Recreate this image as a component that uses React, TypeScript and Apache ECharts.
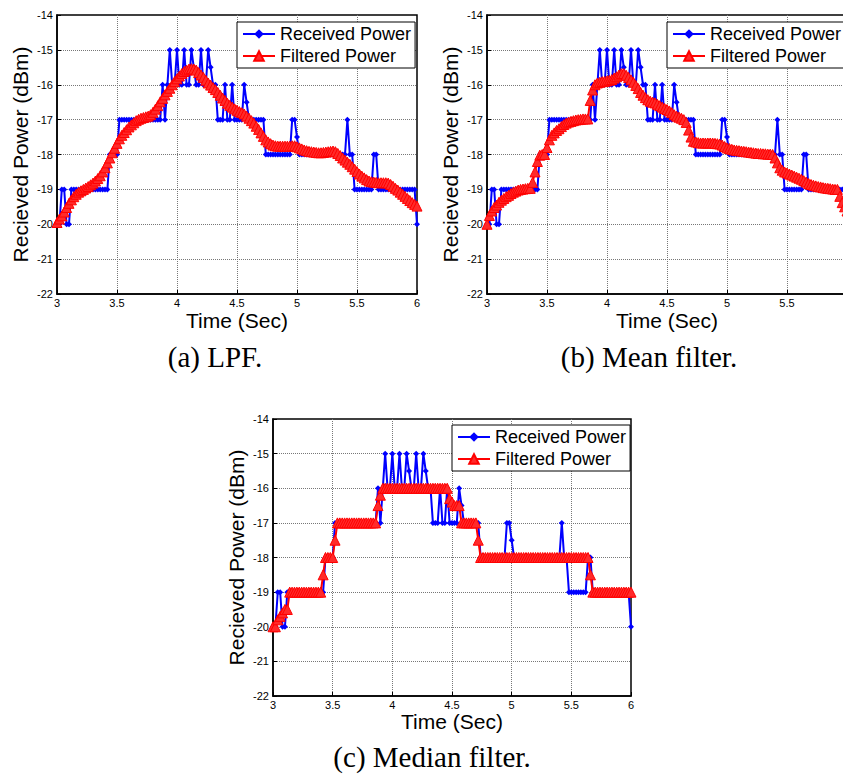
import React, { useEffect, useRef } from "react";
import * as echarts from "echarts";

const timeSec = [
  3.0, 3.02, 3.04, 3.06, 3.08, 3.1, 3.12, 3.14, 3.16, 3.18,
  3.2, 3.22, 3.24, 3.26, 3.28, 3.3, 3.32, 3.34, 3.36, 3.38,
  3.4, 3.42, 3.44, 3.46, 3.48, 3.5, 3.52, 3.54, 3.56, 3.58,
  3.6, 3.62, 3.64, 3.66, 3.68, 3.7, 3.72, 3.74, 3.76, 3.78,
  3.8, 3.82, 3.84, 3.86, 3.88, 3.9, 3.92, 3.94, 3.96, 3.98,
  4.0, 4.02, 4.04, 4.06, 4.08, 4.1, 4.12, 4.14, 4.16, 4.18,
  4.2, 4.22, 4.24, 4.26, 4.28, 4.3, 4.32, 4.34, 4.36, 4.38,
  4.4, 4.42, 4.44, 4.46, 4.48, 4.5, 4.52, 4.54, 4.56, 4.58,
  4.6, 4.62, 4.64, 4.66, 4.68, 4.7, 4.72, 4.74, 4.76, 4.78,
  4.8, 4.82, 4.84, 4.86, 4.88, 4.9, 4.92, 4.94, 4.96, 4.98,
  5.0, 5.02, 5.04, 5.06, 5.08, 5.1, 5.12, 5.14, 5.16, 5.18,
  5.2, 5.22, 5.24, 5.26, 5.28, 5.3, 5.32, 5.34, 5.36, 5.38,
  5.4, 5.42, 5.44, 5.46, 5.48, 5.5, 5.52, 5.54, 5.56, 5.58,
  5.6, 5.62, 5.64, 5.66, 5.68, 5.7, 5.72, 5.74, 5.76, 5.78,
  5.8, 5.82, 5.84, 5.86, 5.88, 5.9, 5.92, 5.94, 5.96, 5.98,
  6.0,
];

const receivedPower = [
  -20, -20, -19, -19, -20, -20, -19, -19, -19, -19,
  -19, -19, -19, -19, -19, -19, -19, -19, -19, -19,
  -19, -19, -18, -18, -18, -18, -17, -17, -17, -17,
  -17, -17, -17, -17, -17, -17, -17, -17, -17, -17,
  -17, -17, -17, -17, -16, -17, -16, -15, -16, -16,
  -15, -16, -16, -15, -16, -16, -15, -15.5, -16, -16,
  -15, -16, -16, -15, -15.5, -16, -16, -17, -17, -17,
  -16, -17, -17, -16, -17, -17, -17, -17, -16, -16.5,
  -17, -17, -17, -17, -17, -17, -17, -18, -18, -18,
  -18, -18, -18, -18, -18, -18, -18, -18, -17, -17,
  -17.5, -18, -18, -18, -18, -18, -18, -18, -18, -18,
  -18, -18, -18, -18, -18, -18, -18, -18, -18, -18,
  -18, -17, -18, -18, -19, -19, -19, -19, -19, -19,
  -19, -19, -18, -18, -19, -19, -19, -19, -19, -19,
  -19, -19, -19, -19, -19, -19, -19, -19, -19, -19,
  -20,
];

const lpfPower = [
  -19.95, -19.85, -19.76, -19.65, -19.52, -19.4, -19.3, -19.21, -19.14, -19.08,
  -19.04, -19.0, -18.96, -18.92, -18.87, -18.82, -18.76, -18.69, -18.61, -18.5,
  -18.38, -18.24, -18.1, -17.95, -17.82, -17.68, -17.55, -17.45, -17.37, -17.29,
  -17.21, -17.15, -17.09, -17.03, -16.99, -16.96, -16.94, -16.92, -16.9, -16.86,
  -16.79, -16.7, -16.6, -16.49, -16.39, -16.29, -16.19, -16.1, -16.0, -15.91,
  -15.83, -15.75, -15.68, -15.62, -15.58, -15.55, -15.54, -15.55, -15.58, -15.65,
  -15.72, -15.79, -15.87, -15.95, -16.01, -16.08, -16.14, -16.22, -16.3, -16.38,
  -16.45, -16.53, -16.59, -16.64, -16.69, -16.73, -16.77, -16.8, -16.84, -16.9,
  -16.96, -17.03, -17.1, -17.19, -17.28, -17.38, -17.48, -17.58, -17.64, -17.69,
  -17.73, -17.75, -17.76, -17.76, -17.76, -17.76, -17.76, -17.76, -17.75, -17.75,
  -17.78, -17.81, -17.84, -17.87, -17.89, -17.91, -17.92, -17.93, -17.94, -17.95,
  -17.95, -17.94, -17.93, -17.92, -17.91, -17.9, -17.92, -17.97, -18.03, -18.1,
  -18.16, -18.22, -18.28, -18.35, -18.42, -18.49, -18.56, -18.62, -18.67, -18.72,
  -18.76, -18.78, -18.79, -18.8, -18.81, -18.81, -18.81, -18.81, -18.82, -18.86,
  -18.91, -18.97, -19.02, -19.08, -19.14, -19.2, -19.26, -19.32, -19.38, -19.43,
  -19.48,
];

const meanPower = [
  -20.0, -19.75, -19.62, -19.52, -19.45, -19.37, -19.31, -19.26, -19.21, -19.17,
  -19.12, -19.08, -19.05, -19.02, -19.0, -18.99, -18.98, -18.97, -18.97, -18.8,
  -18.5, -18.2, -18.02, -18.0, -18.0, -17.8, -17.58, -17.45, -17.38, -17.31,
  -17.26, -17.2, -17.14, -17.1, -17.07, -17.05, -17.03, -17.01, -17.0, -16.99,
  -16.98, -16.98, -16.98, -16.45, -16.15, -16.0, -15.95, -15.93, -15.91, -15.9,
  -15.89, -15.87, -15.85, -15.81, -15.77, -15.72, -15.68, -15.68, -15.73, -15.79,
  -15.86, -15.93, -16.02, -16.11, -16.22, -16.3, -16.37, -16.43, -16.47, -16.5,
  -16.52, -16.56, -16.6, -16.64, -16.68, -16.71, -16.75, -16.8, -16.86, -16.9,
  -16.93, -16.96, -17.0, -17.08, -17.3, -17.5, -17.62, -17.64, -17.66, -17.67,
  -17.67, -17.67, -17.67, -17.67, -17.67, -17.68, -17.69, -17.7, -17.73, -17.77,
  -17.81, -17.83, -17.85, -17.87, -17.88, -17.89, -17.9, -17.91, -17.92, -17.93,
  -17.94, -17.95, -17.96, -17.97, -17.97, -17.98, -17.98, -17.99, -17.99, -18.0,
  -18.1, -18.24, -18.38, -18.45, -18.5, -18.53, -18.56, -18.59, -18.62, -18.65,
  -18.68, -18.71, -18.75, -18.79, -18.83, -18.86, -18.88, -18.9, -18.92, -18.93,
  -18.95, -18.96, -18.97, -18.98, -18.99, -19.0, -19.0, -19.2, -19.38, -19.5,
  -19.62,
];

const medianPower = [
  -20, -20, -19.8, -19.7, -19.6, -19.5, -19.5, -19, -19, -19,
  -19, -19, -19, -19, -19, -19, -19, -19, -19, -19,
  -19, -18.5, -18, -18, -18, -18, -17.5, -17, -17, -17,
  -17, -17, -17, -17, -17, -17, -17, -17, -17, -17,
  -17, -17, -17, -17, -16.5, -16.2, -16, -16, -16, -16,
  -16, -16, -16, -16, -16, -16, -16, -16, -16, -16,
  -16, -16, -16, -16, -16, -16, -16, -16, -16, -16,
  -16, -16, -16, -16, -16.3, -16.4, -16.5, -16.5, -16.5, -17,
  -17, -17, -17, -17, -17, -17, -17.5, -18, -18, -18,
  -18, -18, -18, -18, -18, -18, -18, -18, -18, -18,
  -18, -18, -18, -18, -18, -18, -18, -18, -18, -18,
  -18, -18, -18, -18, -18, -18, -18, -18, -18, -18,
  -18, -18, -18, -18, -18, -18, -18, -18, -18, -18,
  -18, -18, -18, -18.5, -19, -19, -19, -19, -19, -19,
  -19, -19, -19, -19, -19, -19, -19, -19, -19, -19,
  -19,
];

const seriesNames = ["Received Power", "Filtered Power"];
const captions = ["(a) LPF.", "(b) Mean filter.", "(c) Median filter."];
const xAxisTitle = "Time (Sec)";
const yAxisTitle = "Recieved Power (dBm)";
const xRange = [3, 6];
const xStep = 0.5;
const yRange = [-22, -14];
const yStep = 1;

const SANS = "'Liberation Sans', Arial, Helvetica, sans-serif";
const SERIF = "'Liberation Serif', 'Times New Roman', serif";

const pairs = (vals: number[]) => timeSec.map((t, i) => [t, vals[i]]);

const panels = [
  { left: 57, top: 15, width: 360, height: 279, filtered: lpfPower, legLeft: 237, legTop: 22, capX: 215, capY: 357, xGap: 16, showMax: true },
  { left: 487, top: 15, width: 360, height: 279, filtered: meanPower, legLeft: 667, legTop: 22, capX: 649, capY: 357, xGap: 16, showMax: false },
  { left: 273, top: 419, width: 358, height: 277, filtered: medianPower, legLeft: 452, legTop: 425, capX: 432, capY: 757, xGap: 14, showMax: true },
];

export default function App() {
  const ref = useRef<HTMLDivElement>(null);
  useEffect(() => {
    if (!ref.current) return;
    const chart = echarts.init(ref.current, null, { renderer: "svg" });
    const grid: any[] = [];
    const xAxis: any[] = [];
    const yAxis: any[] = [];
    const series: any[] = [];
    const legend: any[] = [];
    const graphic: any[] = [];
    panels.forEach((p, k) => {
      grid.push({
        left: p.left, top: p.top, width: p.width, height: p.height,
        containLabel: false, outerBoundsMode: "none",
        show: true, borderColor: "#000", borderWidth: 1.5, backgroundColor: "#fff",
      });
      xAxis.push({
        gridIndex: k, type: "value", min: xRange[0], max: xRange[1], interval: xStep,
        name: xAxisTitle, nameLocation: "middle", nameGap: p.xGap,
        nameTextStyle: { fontSize: 21, fontFamily: SANS, color: "#000", verticalAlign: "top" },
        axisLine: { show: true, onZero: false, lineStyle: { color: "#000", width: 1.5 } },
        axisTick: { show: true, inside: true, length: 4, lineStyle: { color: "#000" } },
        axisLabel: { fontSize: 11, fontFamily: SANS, color: "#000", margin: 3, hideOverlap: false, showMaxLabel: p.showMax },
        splitLine: { show: true, showMinLine: false, showMaxLine: false, lineStyle: { type: "dotted", color: "#777", width: 1 } },
      });
      yAxis.push({
        gridIndex: k, type: "value", min: yRange[0], max: yRange[1], interval: yStep,
        name: yAxisTitle, nameLocation: "middle", nameGap: 26, nameRotate: 90,
        nameTextStyle: { fontSize: 21, fontFamily: SANS, color: "#000" },
        axisLine: { show: true, onZero: false, lineStyle: { color: "#000", width: 1.5 } },
        axisTick: { show: true, inside: true, length: 4, lineStyle: { color: "#000" } },
        axisLabel: { fontSize: 11, fontFamily: SANS, color: "#000", margin: 4 },
        splitLine: { show: true, showMinLine: false, showMaxLine: false, lineStyle: { type: "dotted", color: "#777", width: 1 } },
      });
      series.push({
        type: "line", name: seriesNames[0], xAxisIndex: k, yAxisIndex: k,
        data: pairs(receivedPower), symbol: "diamond", symbolSize: 6, showAllSymbol: true,
        lineStyle: { color: "#0000ff", width: 2 }, itemStyle: { color: "#0000ff" }, z: 2,
      });
      series.push({
        type: "line", name: seriesNames[1], xAxisIndex: k, yAxisIndex: k,
        data: pairs(p.filtered), symbol: "triangle", symbolSize: 10, showAllSymbol: true,
        lineStyle: { color: "#ff0000", width: 2 },
        itemStyle: { color: "#ff2a2a", borderColor: "#ff0000", borderWidth: 1 }, z: 3,
      });
      legend.push({
        left: p.legLeft, top: p.legTop, orient: "vertical", data: seriesNames,
        backgroundColor: "#fff", borderColor: "#000", borderWidth: 1, borderRadius: 0,
        padding: [3, 4, 3, 5], itemGap: 4, itemWidth: 32, itemHeight: 12,
        selectedMode: false,
        textStyle: { fontSize: 18, fontFamily: SANS, color: "#000", lineHeight: 18 },
      });
      graphic.push({
        type: "text", x: p.capX, y: p.capY,
        style: { text: captions[k], font: `29px ${SERIF}`, fill: "#000", textAlign: "center", textVerticalAlign: "middle" },
      });
    });
    chart.setOption({
      animation: false,
      backgroundColor: "#fff",
      grid, xAxis, yAxis, series, legend, graphic,
    });
    return () => chart.dispose();
  }, []);
  return (
    <div
      ref={ref}
      style={{ position: "absolute", left: 0, top: 0, width: 843, height: 779 }}
    />
  );
}
